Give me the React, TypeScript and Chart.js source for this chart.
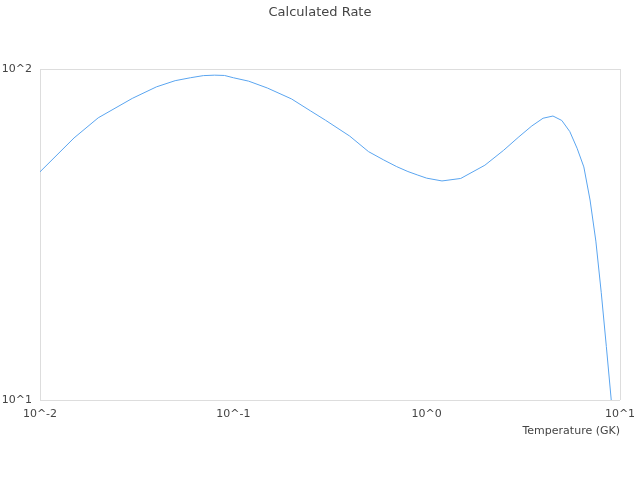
import React, { useEffect, useRef } from 'react';
import { Chart, registerables } from 'chart.js';

Chart.register(...registerables);

// temperature grid (GK) and the rate
const temperatures = [
  0.01, 0.015, 0.02, 0.03, 0.04, 0.05, 0.06, 0.07, 0.08, 0.09,
  0.1, 0.12, 0.15, 0.2, 0.25, 0.3, 0.4, 0.5, 0.6, 0.7,
  0.8, 0.9, 1.0, 1.2, 1.5, 2, 2.5, 3, 3.5, 4,
  4.5, 5, 5.5, 6, 6.5, 7, 7.5, 8, 8.5, 9, 9.5,
];
const rates = [
  48.9, 61.9, 71.2, 81.5, 88.3, 92.2, 94.1, 95.5, 95.8, 95.6,
  94.1, 91.9, 87.6, 81.2, 74.8, 70.0, 62.7, 56.3, 53.1, 50.7,
  49.0, 47.8, 46.8, 45.9, 46.7, 51.2, 56.8, 62.4, 67.3, 71.0,
  72.1, 69.9, 64.7, 57.6, 50.6, 40.2, 30.2, 21.1, 14.5, 10.07, 6.8,
];
const xTickValues = [0.01, 0.1, 1, 10];
const yTickValues = [10, 100];

const fontFamily = '"DejaVu Sans", Verdana, sans-serif';
const textColor = '#444';
const gridColor = '#dddddd';

const powerLabel = (v: number) => `10^${Math.round(Math.log10(v))}`;

// only the outermost grid lines are drawn, so they form the frame
const edgeOnly = (count: number) => (c: any) =>
  c.index === 0 || c.index === count - 1 ? gridColor : 'rgba(0,0,0,0)';

const RateChart: React.FC = () => {
  const chartRef = useRef<HTMLCanvasElement | null>(null);
  const chartInstance = useRef<Chart | null>(null);

  useEffect(() => {
    if (!chartRef.current) return;
    const ctx = chartRef.current.getContext('2d');
    if (!ctx) return;

    if (chartInstance.current) {
      chartInstance.current.destroy();
    }

    chartInstance.current = new Chart(ctx, {
      type: 'line',
      data: {
        datasets: [
          {
            label: 'Rate',
            data: temperatures.map((t, i) => ({ x: t, y: rates[i] })),
            borderColor: 'rgb(90,165,240)',
            borderWidth: 1,
            pointRadius: 0,
            fill: false,
            tension: 0,
          },
        ],
      },
      options: {
        responsive: true,
        maintainAspectRatio: false,
        animation: false,
        plugins: {
          legend: { display: false },
          tooltip: { enabled: false },
          title: {
            display: true,
            text: 'Calculated Rate',
            color: textColor,
            font: { family: fontFamily, size: 13, weight: 'normal' },
            padding: { top: 5, bottom: 48.4 },
          },
        },
        scales: {
          x: {
            type: 'logarithmic',
            min: 0.01,
            max: 10,
            afterBuildTicks: (scale) => {
              scale.ticks = xTickValues.map((v) => ({ value: v }));
            },
            afterFit: (scale: any) => {
              scale.height = 80;
              scale.paddingLeft = 0;
              scale.paddingRight = 20;
            },
            ticks: {
              color: textColor,
              font: { family: fontFamily, size: 11 },
              padding: 8,
              maxRotation: 0,
              autoSkip: false,
              callback: (v) => powerLabel(Number(v)),
            },
            grid: { color: edgeOnly(xTickValues.length), drawTicks: false },
            border: { display: false },
            title: {
              display: true,
              text: 'Temperature (GK)',
              align: 'end',
              color: textColor,
              font: { family: fontFamily, size: 11 },
              padding: { top: 0, bottom: 42.4 },
            },
          },
          y: {
            type: 'logarithmic',
            min: 10,
            max: 100,
            afterBuildTicks: (scale) => {
              scale.ticks = yTickValues.map((v) => ({ value: v }));
            },
            afterFit: (scale: any) => {
              scale.width = 40;
              scale.paddingTop = 0;
              scale.paddingBottom = 0;
            },
            ticks: {
              color: textColor,
              font: { family: fontFamily, size: 11 },
              padding: 8,
              autoSkip: false,
              callback: (v) => powerLabel(Number(v)),
            },
            grid: { color: edgeOnly(yTickValues.length), drawTicks: false },
            border: { display: false },
          },
        },
      },
    });

    return () => {
      if (chartInstance.current) {
        chartInstance.current.destroy();
        chartInstance.current = null;
      }
    };
  }, []);

  return (
    <div style={{ position: 'relative', width: 640, height: 480, background: '#fff' }}>
      <canvas ref={chartRef} />
    </div>
  );
};

export default function App() {
  useEffect(() => {
    document.body.style.margin = '0';
  }, []);
  return <RateChart />;
}
